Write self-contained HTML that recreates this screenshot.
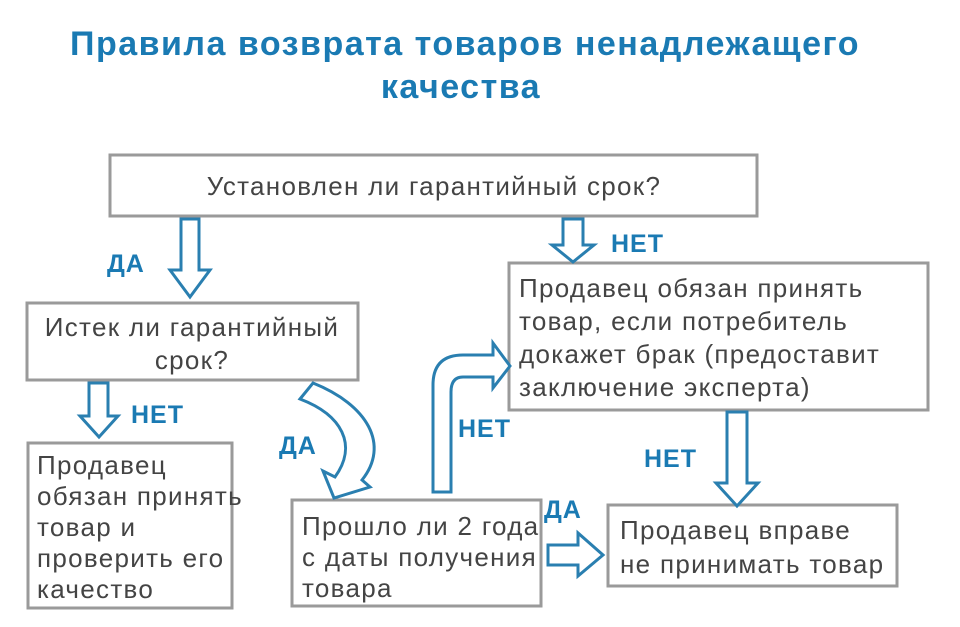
<!DOCTYPE html>
<html><head><meta charset="utf-8"><style>
body{margin:0;background:#fff;}
svg{display:block;}
text{font-family:"Liberation Sans","DejaVu Sans",sans-serif;}
.t{fill:#1a7ab3;font-weight:bold;font-size:34px;letter-spacing:1.5px;}
.l{fill:#1a7ab3;font-weight:bold;font-size:25px;letter-spacing:1px;}
.b{fill:#444;font-size:26px;letter-spacing:1.3px;}
rect{fill:#fff;stroke:#9a9a9a;stroke-width:3;}
.a{fill:#fff;stroke:#2a7fb0;stroke-width:3;stroke-linejoin:miter;}
</style></head><body>
<svg width="960" height="627" viewBox="0 0 960 627" xmlns="http://www.w3.org/2000/svg">
<text class="t" x="465" y="55" text-anchor="middle">Правила возврата товаров ненадлежащего</text>
<text class="t" x="461" y="98" text-anchor="middle">качества</text>

<rect x="110" y="155" width="647" height="61"/>
<text class="b" x="434" y="195" text-anchor="middle">Установлен ли гарантийный срок?</text>

<rect x="27" y="303" width="331" height="77"/>
<text class="b" x="192" y="336" text-anchor="middle">Истек ли гарантийный</text>
<text class="b" x="192" y="369" text-anchor="middle">срок?</text>

<rect x="28" y="443" width="204" height="165"/>
<text class="b" x="37" y="474">Продавец</text>
<text class="b" x="37" y="505">обязан принять</text>
<text class="b" x="37" y="536">товар и</text>
<text class="b" x="37" y="567">проверить его</text>
<text class="b" x="37" y="598">качество</text>

<rect x="292" y="500" width="249" height="106"/>
<text class="b" x="302" y="535">Прошло ли 2 года</text>
<text class="b" x="302" y="566">с даты получения</text>
<text class="b" x="302" y="597">товара</text>

<rect x="509" y="263" width="419" height="147"/>
<text class="b" x="519" y="297">Продавец обязан принять</text>
<text class="b" x="519" y="330">товар, если потребитель</text>
<text class="b" x="519" y="363">докажет брак (предоставит</text>
<text class="b" x="519" y="396">заключение эксперта)</text>

<rect x="608" y="505" width="289" height="81"/>
<text class="b" x="620" y="539">Продавец вправе</text>
<text class="b" x="620" y="573">не принимать товар</text>

<path class="a" d="M181,219 L199,219 L199,270 L210,270 L190,297 L170,270 L181,270 Z"/>
<path class="a" d="M563,219 L583,219 L583,245 L594,245 L573,262 L552,245 L563,245 Z"/>
<path class="a" d="M89,383 L108,383 L108,416 L118,416 L99,437 L80,416 L89,416 Z"/>
<path class="a" d="M727,412 L747,412 L747,483 L758,483 L737,506 L716,483 L727,483 Z"/>
<path class="a" d="M548,545 L578,545 L578,533 L603,555 L578,576 L578,565 L548,565 Z"/>
<path class="a" d="M300,399 L313,383 C368,405 390,445 362,480 L370,487 L334,498 L323,471 L335,477 C358,445 342,415 300,399 Z"/>
<path class="a" d="M433,492 L433,385 Q433,355 463,355 L493,355 L493,343 L510,366 L493,388 L493,377 L463,377 Q451,377 451,392 L451,492 Z"/>

<text class="l" x="107" y="272">ДА</text>
<text class="l" x="611" y="252">НЕТ</text>
<text class="l" x="131" y="423">НЕТ</text>
<text class="l" x="279" y="454">ДА</text>
<text class="l" x="458" y="437">НЕТ</text>
<text class="l" x="644" y="467">НЕТ</text>
<text class="l" x="544" y="518">ДА</text>
</svg>
</body></html>
